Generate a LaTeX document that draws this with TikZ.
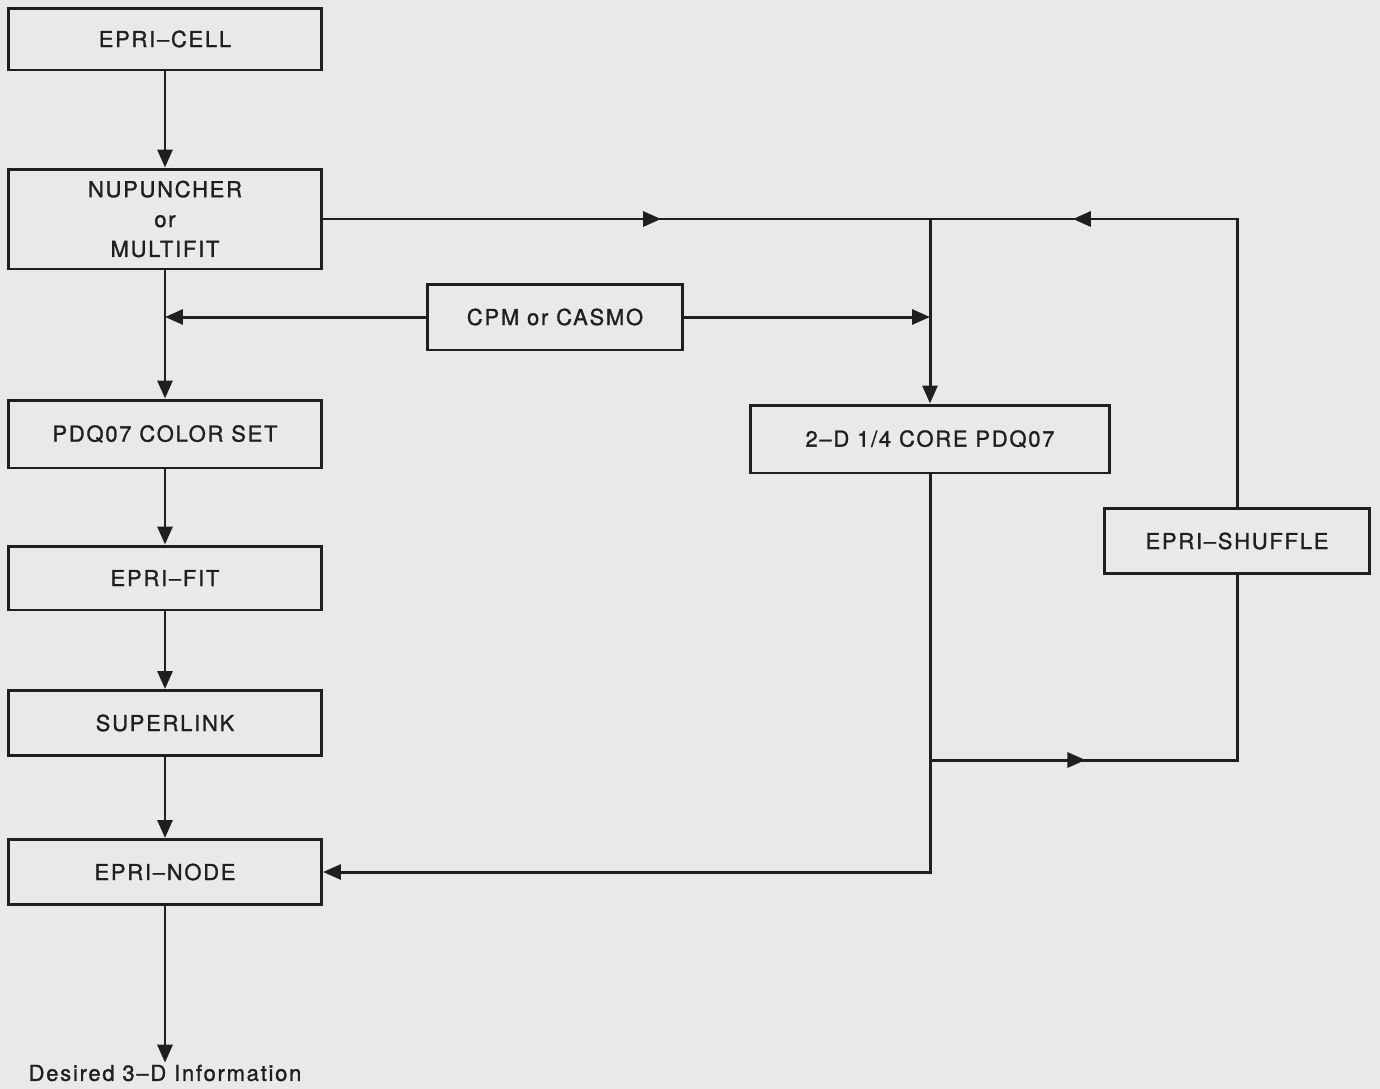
\documentclass[tikz,border=0pt]{standalone}
\usepackage{fontspec}
\setmainfont{TeX Gyre Heros}[LetterSpace=8,FakeBold=1.2]
\usetikzlibrary{arrows.meta,positioning,calc,decorations.markings}
\definecolor{paper}{HTML}{E9E9E7}
\definecolor{ink}{HTML}{1F1F1F}
\tikzset{
  prog/.style={draw=ink,line width=1.7pt,fill=paper,text=ink,align=center,font=\fontsize{12.5}{17}\selectfont,minimum width=6.26cm,minimum height=1.3cm,inner sep=2pt},
  wire/.style={line width=1.7pt,color=ink},
  flow/.style={wire,-{Triangle[length=3.6mm,width=3mm]}},
  midflow/.style={wire,postaction={decorate},decoration={markings,mark=at position #1 with {\arrow{Triangle[length=3.6mm,width=3mm]}}}},
}

\begin{document}
\begin{tikzpicture}[x=0.02cm,y=-0.02cm,
  lab/.style={font=\fontsize{12.5}{15}\selectfont,text=ink,inner sep=1pt}]
  \fill[paper] (0,0) rectangle (1380,1089);
  \useasboundingbox (0,0) rectangle (1380,1089);
  % left column
  \node[prog,minimum height=1.24cm] (cell) at (165,39) {EPRI–CELL};
  \node[prog,minimum height=2cm] (nup) at (165,219) {NUPUNCHER\\or\\MULTIFIT};
  \node[prog,minimum height=1.36cm] (pdq) at (165,434) {PDQ07 COLOR SET};
  \node[prog,minimum height=1.28cm] (fit) at (165,578) {EPRI–FIT};
  \node[prog] (slink) at (165,723) {SUPERLINK};
  \node[prog] (enode) at (165,872) {EPRI–NODE};
  \node[lab] (info) at (165,1073) {Desired 3–D Information};
  % middle and right
  \node[prog,minimum width=5.12cm,minimum height=1.32cm] (cpm) at (555,317) {CPM or CASMO};
  \node[prog,minimum width=7.2cm,minimum height=1.36cm] (core) at (930,439) {2–D 1/4 CORE PDQ07};
  \node[prog,minimum width=5.3cm] (shuf) at (1237,541) {EPRI–SHUFFLE};
  \coordinate (jtop) at (930,219);
  \coordinate (jlow) at (930,760);
  % connectors
  \foreach \a/\b in {cell/nup,nup/pdq,pdq/fit,fit/slink,slink/enode,enode/info}
    \draw[flow] (\a) -- (\b);
  \draw[flow] (cpm.west) -- (cpm.west -| nup.south);
  \draw[flow] (cpm.east) -- (cpm.east -| jtop);
  \draw[midflow=0.557] (nup.east) -- (jtop);
  \draw[midflow=0.76] (shuf.north) |- (jtop);
  \draw[flow] (jtop) -- (core.north);
  \draw[flow] (core.south) |- (enode.east);
  \draw[midflow=0.316] (jlow) -| (shuf.south);
\end{tikzpicture}
\end{document}
